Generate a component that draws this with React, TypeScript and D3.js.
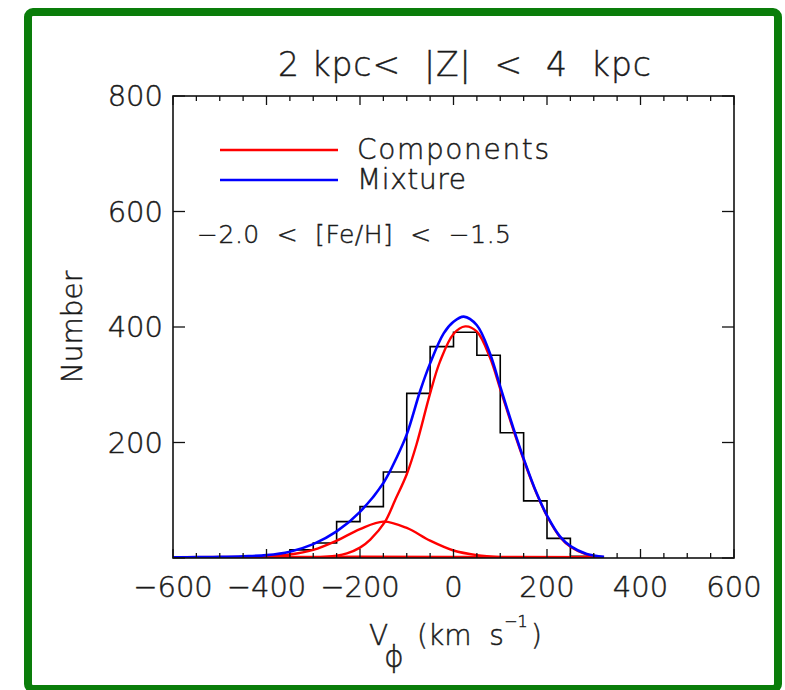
import React from 'react';
import * as d3 from 'd3';

// ---- data ----
const xDomain: [number, number] = [-600, 600];
const yDomain: [number, number] = [0, 800];
const xMajorTicks = [-600, -400, -200, 0, 200, 400, 600];
const xMinorTicks = d3.range(-600, 601, 50);
const yMajorTicks = [0, 200, 400, 600, 800];
const yTickLabels = [200, 400, 600, 800];

const binLeftEdges = [-400, -350, -300, -250, -200, -150, -100, -50, 0, 50, 100, 150, 200, 250];
const binCounts = [3, 14, 26, 63, 89, 149, 285, 366, 391, 351, 217, 99, 34, 3];
const binWidth = 50;

const mixtureV = [-600, -550, -500, -450, -400, -350, -300, -250, -200, -150, -121, -100, -71, -50, -21, 0, 22, 50, 78, 101, 128, 151, 178, 201, 228, 251, 285, 322];
const mixtureN = [1, 1.5, 2, 3, 5, 11, 24, 46, 80, 130, 175, 214, 290, 337, 389, 409, 418, 403, 354, 294, 225, 170, 112, 72, 37, 20, 7, 2];

const mainCompV = [-600, -400, -300, -250, -228, -200, -178, -147, -125, -100, -79, -50, -29, 0, 25, 50, 78, 101, 128, 151, 178, 201, 228, 251, 285, 322];
const mainCompN = [0, 0.1, 0.8, 4, 8, 18, 32, 62, 100, 145, 197, 285, 340, 388, 401, 392, 347, 290, 222, 168, 111, 71, 36, 19, 6, 1.5];

const secondCompV = [-600, -500, -450, -400, -350, -300, -250, -200, -150, -100, -50, 0, 50, 100, 150, 200, 322];
const secondCompN = [0, 0.5, 1.5, 3, 6, 14, 30, 50, 63, 52, 30, 13, 5, 1.5, 0.4, 0, 0];

const haloCompV = [-600, -300, 0, 322];
const haloCompN = [1.5, 2, 2, 1.5];

const titleText = '2 kpc<  |Z|  <  4  kpc';
const legendLabels = ['Components', 'Mixture'];
const annotationText = '\u22122.0  <  [Fe/H]  <  \u22121.5';

export default function App() {
  const W = 785, H = 690;
  const left = 173, right = 734, top = 96, bottom = 558;
  const x = d3.scaleLinear().domain(xDomain).range([left, right]);
  const y = d3.scaleLinear().domain(yDomain).range([bottom, top]);

  const histPts: [number, number][] = binLeftEdges.map((e, i) => [e, binCounts[i]]);
  histPts.push([binLeftEdges[binLeftEdges.length - 1] + binWidth, binCounts[binCounts.length - 1]]);
  const histLine = d3.line<[number, number]>().x(d => x(d[0])).y(d => y(d[1])).curve(d3.curveStepAfter);

  const smooth = d3.line<[number, number]>().x(d => x(d[0])).y(d => y(d[1])).curve(d3.curveCatmullRom.alpha(0.5));
  const zip = (a: number[], b: number[]) => a.map((v, i) => [v, b[i]] as [number, number]);

  const font = 'DejaVu Sans, Liberation Sans, sans-serif';
  const minus = (v: number) => (v < 0 ? '\u2212' + Math.abs(v) : String(v));
  const txt = { fill: '#1a1a1a', fontWeight: 200 as any, stroke: '#1a1a1a', strokeWidth: 0.45 };

  return (
    <svg width={W} height={H} style={{ position: 'absolute', left: 0, top: 0, display: 'block', background: '#fff' }}
      fontFamily={font}>
      <defs>
        <clipPath id="plotclip"><rect x={left} y={top} width={right - left} height={bottom - top} /></clipPath>
      </defs>
      <rect x={28} y={12} width={750} height={677} fill="none" stroke="#0a7d0a" strokeWidth={8} rx={5} />
      <text x={278} y={76} fontSize={33} textLength={373} lengthAdjust="spacing" {...txt} style={{ whiteSpace: 'pre' }}>{titleText}</text>

      <g clipPath="url(#plotclip)">
        <path d={histLine(histPts) || ''} fill="none" stroke="#000" strokeWidth={1.6} />
        <path d={smooth(zip(haloCompV, haloCompN)) || ''} fill="none" stroke="#ff0000" strokeWidth={2.4} />
        <path d={smooth(zip(secondCompV, secondCompN)) || ''} fill="none" stroke="#ff0000" strokeWidth={2.4} />
        <path d={smooth(zip(mainCompV, mainCompN)) || ''} fill="none" stroke="#ff0000" strokeWidth={2.4} />
        <path d={smooth(zip(mixtureV, mixtureN)) || ''} fill="none" stroke="#0000ff" strokeWidth={2.6} />
      </g>

      <rect x={left} y={top} width={right - left} height={bottom - top} fill="none" stroke="#111" strokeWidth={1.6} />
      {xMinorTicks.map(v => {
        const major = xMajorTicks.includes(v);
        const len = major ? 9 : 5;
        return (
          <g key={'xt' + v}>
            <line x1={x(v)} x2={x(v)} y1={bottom} y2={bottom - len} stroke="#111" strokeWidth={1.3} />
            <line x1={x(v)} x2={x(v)} y1={top} y2={top + len} stroke="#111" strokeWidth={1.3} />
          </g>
        );
      })}
      {yMajorTicks.map(v => (
        <g key={'yt' + v}>
          <line x1={left} x2={left + 12} y1={y(v)} y2={y(v)} stroke="#111" strokeWidth={1.3} />
          <line x1={right} x2={right - 12} y1={y(v)} y2={y(v)} stroke="#111" strokeWidth={1.3} />
        </g>
      ))}
      {xMajorTicks.map(v => (
        <text key={'xl' + v} x={x(v)} y={597} textAnchor="middle" fontSize={29} {...txt}>{minus(v)}</text>
      ))}
      {yTickLabels.map(v => (
        <text key={'yl' + v} x={163} y={y(v) + 10} textAnchor="end" fontSize={29} {...txt}>{v}</text>
      ))}
      <text transform={`translate(82,${327}) rotate(-90)`} textAnchor="middle" fontSize={28} {...txt}>Number</text>

      <text x={369} y={645} fontSize={28} {...txt}>V</text>
      <text x={384} y={667} fontSize={30} {...txt}>ϕ</text>
      <text x={417} y={645} fontSize={28} {...txt} style={{ whiteSpace: 'pre' }}>(km  s</text>
      <text x={504} y={627} fontSize={16} {...txt}>−1</text>
      <text x={531} y={645} fontSize={28} {...txt}>)</text>

      {legendLabels.map((lab, i) => (
        <g key={lab}>
          <line x1={220} x2={338} y1={150 + i * 30} y2={150 + i * 30} stroke={i === 0 ? '#ff0000' : '#0000ff'} strokeWidth={2.6} />
          <text x={357} y={159 + i * 30} fontSize={28} textLength={i === 0 ? 192 : 109} lengthAdjust="spacing" {...txt}>{lab}</text>
        </g>
      ))}
      <text x={197} y={243} fontSize={25} textLength={314} lengthAdjust="spacing" {...txt} style={{ whiteSpace: 'pre' }}>{annotationText}</text>
    </svg>
  );
}
